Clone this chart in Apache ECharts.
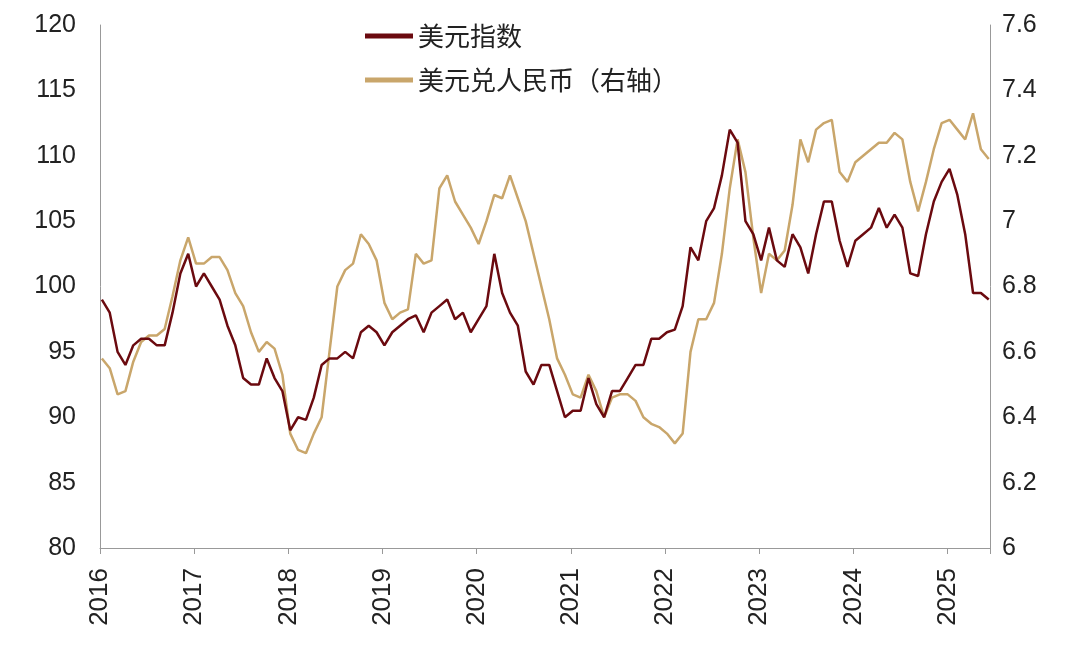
<!DOCTYPE html>
<html><head><meta charset="utf-8">
<script src="https://cdn.jsdelivr.net/npm/echarts@6/dist/echarts.min.js"></script>
<style>html,body{margin:0;background:#fff}#c{width:1080px;height:652px}</style>
</head><body><div id="c"></div>
<script>
var startYear = 2016;
var dxyMonthly = [
99,98,95,94,95.5,96,96,95.5,95.5,98,101,102.5,
100,101,100,99,97,95.5,93,92.5,92.5,94.5,93,92,
89,90,89.8,91.5,94,94.5,94.5,95,94.5,96.5,97,96.5,
95.5,96.5,97,97.5,97.8,96.5,98,98.5,99,97.5,98,96.5,
97.5,98.5,102.5,99.5,98,97,93.5,92.5,94,94,92,90,
90.5,90.5,93,91,90,92,92,93,94,94,96,96,
96.5,96.7,98.5,103,102,105,106,108.5,112,111,105,104,
102,104.5,102,101.5,104,103,101,104,106.5,106.5,103.5,101.5,
103.5,104,104.5,106,104.5,105.5,104.5,101,100.8,104,106.5,108,
109,107,104,99.5,99.5,99
];
var cnyMonthly = [
6.58,6.55,6.47,6.48,6.57,6.63,6.65,6.65,6.67,6.77,6.88,6.95,
6.87,6.87,6.89,6.89,6.85,6.78,6.74,6.66,6.60,6.63,6.61,6.53,
6.35,6.30,6.29,6.35,6.40,6.60,6.80,6.85,6.87,6.96,6.93,6.88,
6.75,6.70,6.72,6.73,6.90,6.87,6.88,7.10,7.14,7.06,7.02,6.98,
6.93,7.00,7.08,7.07,7.14,7.07,7.00,6.90,6.80,6.70,6.58,6.53,
6.47,6.46,6.53,6.48,6.40,6.46,6.47,6.47,6.45,6.40,6.38,6.37,
6.35,6.32,6.35,6.60,6.70,6.70,6.75,6.90,7.10,7.25,7.15,6.95,
6.78,6.90,6.88,6.91,7.05,7.25,7.18,7.28,7.30,7.31,7.15,7.12,
7.18,7.20,7.22,7.24,7.24,7.27,7.25,7.12,7.03,7.12,7.22,7.30,
7.31,7.28,7.25,7.33,7.22,7.19
];
function toPts(arr){return arr.map(function(v,i){return [startYear+i/12+0.02, v];});}
var font='"Liberation Sans", Arial, sans-serif';
var chart=echarts.init(document.getElementById('c'));
chart.setOption({
 animation:false,
 grid:{left:100,right:90,top:25,bottom:104},
 legend:{orient:'vertical',left:360,top:18,itemGap:18,itemWidth:48,itemHeight:5,icon:'rect',
   textStyle:{fontSize:26,color:'#222',fontFamily:'"Noto Sans CJK SC", sans-serif'},
   data:['美元指数','美元兑人民币（右轴）']},
 xAxis:{type:'value',min:2016,max:2025.45,interval:1,
   axisLine:{lineStyle:{color:'#999'}},axisTick:{show:true,length:6,lineStyle:{color:'#999'}},
   splitLine:{show:false},
   axisLabel:{rotate:90,fontSize:26,color:'#222',fontFamily:font,margin:20,
     formatter:function(v){return Number.isInteger(v)?String(v):'';}}},
 yAxis:[
  {type:'value',min:80,max:120,interval:5,splitLine:{show:false},
   axisLine:{show:true,lineStyle:{color:'#999'}},axisTick:{show:false},
   axisLabel:{fontSize:25,color:'#222',fontFamily:font,margin:24}},
  {type:'value',min:6,max:7.6,interval:0.2,splitLine:{show:false},
   axisLine:{show:true,lineStyle:{color:'#999'}},axisTick:{show:false},
   axisLabel:{fontSize:25,color:'#222',fontFamily:font,margin:12,
     formatter:function(v){return String(parseFloat(v.toFixed(1)));}}}
 ],
 series:[
  {name:'美元兑人民币（右轴）',type:'line',yAxisIndex:1,showSymbol:false,data:toPts(cnyMonthly),
   lineStyle:{width:2.5,color:'#C9A66B'},itemStyle:{color:'#C9A66B'},z:2},
  {name:'美元指数',type:'line',yAxisIndex:0,showSymbol:false,data:toPts(dxyMonthly),
   lineStyle:{width:2.5,color:'#6B0A0F'},itemStyle:{color:'#6B0A0F'},z:3}
 ]
});
</script></body></html>
